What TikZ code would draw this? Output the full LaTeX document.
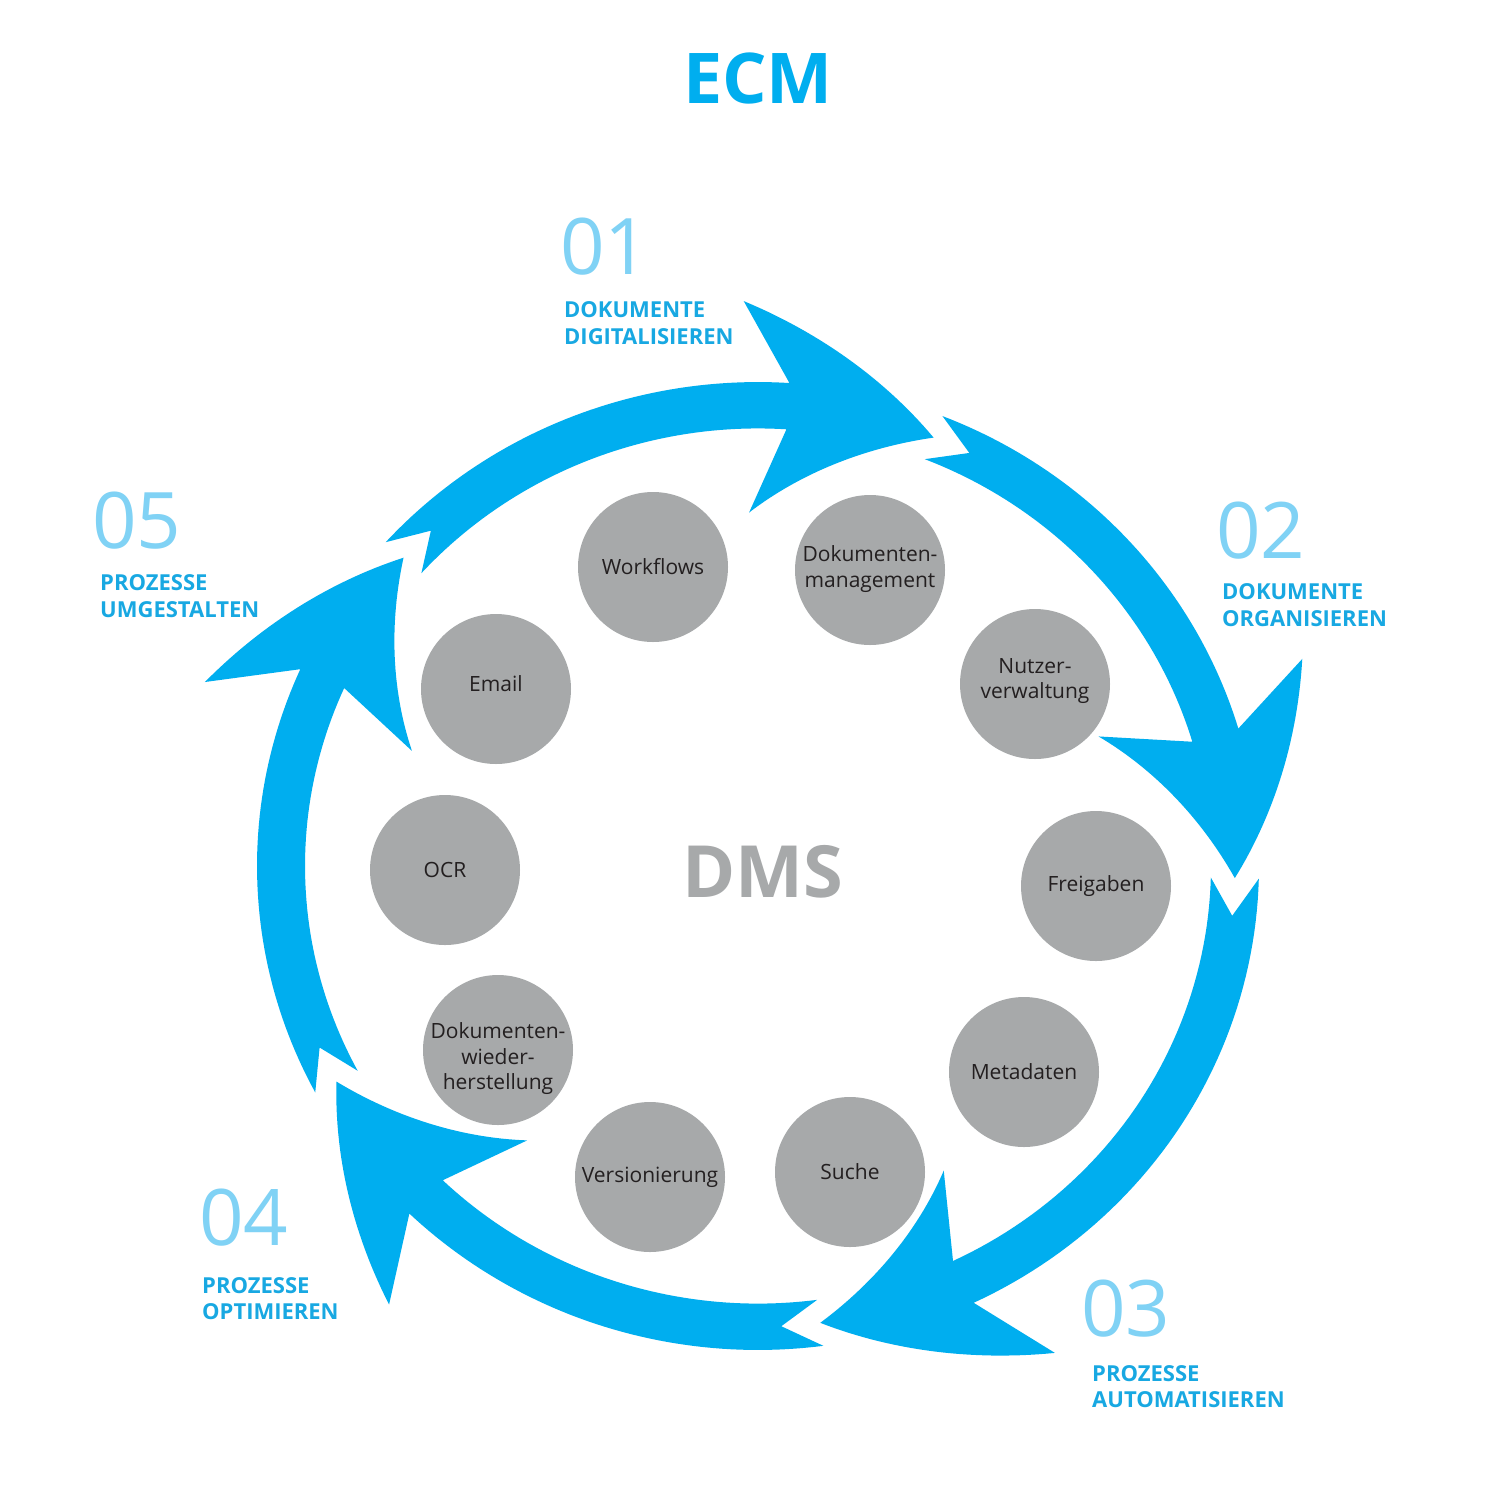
\documentclass[tikz,border=0pt]{standalone}
\usepackage{fontspec}
\setmainfont{Open Sans}
\definecolor{ecmblue}{RGB}{0,174,239}
\definecolor{numblue}{RGB}{128,210,245}
\definecolor{labblue}{RGB}{24,168,226}
\definecolor{discgray}{RGB}{167,169,170}
\definecolor{txtdark}{RGB}{35,31,32}
\newcommand\ecmarrow[2]{%
  \pgfmathsetmacro\Tn{#1-4.7}%
  \pgfmathsetmacro\Nn{#2+18}%
  \pgfmathsetmacro\Bb{#2+23}%
  \fill[ecmblue] (#1:501) -- plot[domain=#1:\Nn,samples=50] (\x:501)
    -- plot[domain=\Bb:#2,samples=30] (\x:{585-108*(\Bb-\x)/23})
    -- plot[domain=#2:\Bb,samples=30] (\x:{477-111*(\x-#2)/23})
    -- plot[domain=\Nn:#1,samples=50] (\x:453)
    -- (\Tn:477) -- cycle;
}
\tikzset{
  disc/.style={circle,fill=discgray,minimum size=150pt,inner sep=0pt},
  disctext/.style={font=\fontsize{21}{25.5}\selectfont,text=txtdark,align=center,inner sep=0pt},
  numtext/.style={font=\fontsize{78}{78}\selectfont,text=numblue,anchor=base west,inner sep=0pt},
  labtext/.style={font=\fontsize{22}{27}\bfseries\selectfont,text=labblue,anchor=base west,inner sep=0pt},
}
\begin{document}
\begin{tikzpicture}[x=1pt,y=-1pt]
\useasboundingbox (0,0) rectangle (1500,1500);
\fill[white] (0,0) rectangle (1500,1500);
% title
\node[font=\fontsize{70}{70}\bfseries\selectfont,text=ecmblue,inner sep=0pt] (ecm) at (758,78) {ECM};
% ring of arrows
\begin{scope}[shift={(758pt,-866pt)},x=1pt,y=0.966pt]
  \ecmarrow{138}{68.4}
  \ecmarrow{68.4}{-1.5}
  \ecmarrow{-1.5}{-82.5}
  \ecmarrow{-82.5}{-152.1}
  \ecmarrow{-152.1}{-222}
\end{scope}
% centre
\node[font=\fontsize{72}{72}\bfseries\selectfont,text=discgray,inner sep=0pt] (dms) at (763,872) {DMS};
% discs
\node[disc] (d1) at (653,567) {};  \node[disctext] at (d1) {Workflows};
\node[disc] (d2) at (870,570) {};  \node[disctext] at ([yshift=1pt]d2.center) {Dokumenten-\\management};
\node[disc] (d3) at (1035,684) {}; \node[disctext] at ([yshift=3pt]d3.center) {Nutzer-\\verwaltung};
\node[disc] (d4) at (1096,886) {}; \node[disctext] at (d4) {Freigaben};
\node[disc] (d5) at (1024,1072) {};\node[disctext] at (d5) {Metadaten};
\node[disc] (d6) at (850,1172) {}; \node[disctext] at (d6) {Suche};
\node[disc] (d7) at (650,1177) {}; \node[disctext] at (d7) {Versionierung};
\node[disc] (d8) at (498,1050) {}; \node[disctext] at ([yshift=-9pt]d8.center) {Dokumenten-\\wieder-\\herstellung};
\node[disc] (d9) at (445,870) {};  \node[disctext] at (d9) {OCR};
\node[disc] (d10) at (496,689) {}; \node[disctext] at ([yshift=5pt]d10.center) {Email};
% step labels
\node[numtext] (n1) at (560,274) {01};
\node[labtext] (l1a) at (564,317) {DOKUMENTE};
\node[labtext] (l1b) at (564,344) {DIGITALISIEREN};
\node[numtext] (n2) at (1216,558) {02};
\node[labtext] (l2a) at (1222,599) {DOKUMENTE};
\node[labtext] (l2b) at (1222,626) {ORGANISIEREN};
\node[numtext] (n3) at (1081,1336) {03};
\node[labtext] (l3a) at (1092,1381) {PROZESSE};
\node[labtext] (l3b) at (1092,1407) {AUTOMATISIEREN};
\node[numtext] (n4) at (199,1245) {04};
\node[labtext] (l4a) at (202,1293) {PROZESSE};
\node[labtext] (l4b) at (202,1319) {OPTIMIEREN};
\node[numtext] (n5) at (92,548) {05};
\node[labtext] (l5a) at (100,590) {PROZESSE};
\node[labtext] (l5b) at (100,617) {UMGESTALTEN};
\end{tikzpicture}
\end{document}
